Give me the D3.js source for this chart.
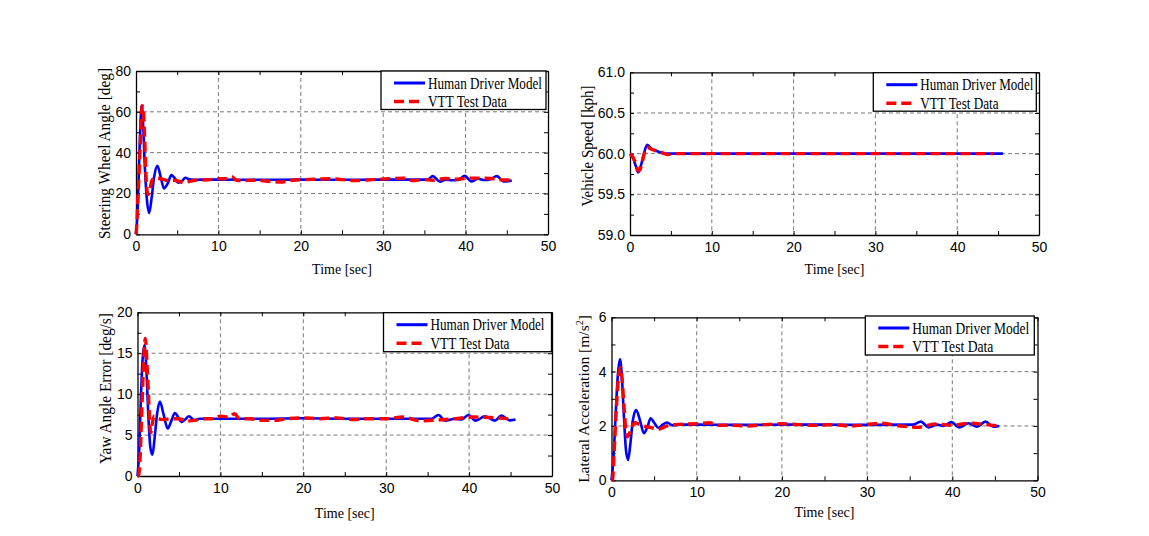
<!DOCTYPE html>
<html><head><meta charset="utf-8">
<script src="https://cdn.jsdelivr.net/npm/d3@7"></script>
<style>
html,body{margin:0;padding:0;background:#fff;}
svg{display:block;}
</style></head>
<body>
<script>
// ---------- data ----------
const timeTicks = [0, 10, 20, 30, 40, 50];
const timeMinorTicks = [5, 15, 25, 35, 45];
const steerTicks = [0, 20, 40, 60, 80];
const steerMinorTicks = [10, 30, 50, 70];
const speedTicks = [59.0, 59.5, 60.0, 60.5, 61.0];
const speedMinorTicks = [59.25, 59.75, 60.25, 60.75];
const yawTicks = [0, 5, 10, 15, 20];
const yawMinorTicks = [2.5, 7.5, 12.5, 17.5];
const latTicks = [0, 2, 4, 6];
const latMinorTicks = [1, 3, 5];

const legendLabels = ["Human Driver Model", "VTT Test Data"];
const xAxisLabel = "Time [sec]";
const yAxisLabels = ["Steering Wheel Angle [deg]", "Vehicle Speed [kph]", "Yaw Angle Error [deg/s]", "Lateral Acceleration [m/s"];

// Steering wheel angle
const steerModelT = [0,0.2,0.4,0.55,0.7,0.85,1.05,1.3,1.6,1.9,2.2,2.6,3.0,3.4,3.85,4.3,4.7,5.1,5.55,6.0,6.5,7.0,8,10,15,20,25,30,35,35.5,36.0,36.9,37.6,38.3,39.1,39.9,40.7,41.5,42.3,43.0,43.8,44.6,45.6];
const steerModelV = [0,12,38,55,63,55,35,18,10.5,18,28,33.5,28,22.5,25,29,27.5,25.3,26,27.7,26.9,26.7,26.8,26.8,26.7,26.8,26.7,26.8,26.8,27.0,28.5,25.8,26.8,26.5,26.6,28.6,25.9,27.2,26.6,27.0,28.5,25.9,26.3];
const steerTestT = [0,0.1,0.2,0.35,0.5,0.65,0.75,0.9,1.05,1.2,1.35,1.5,1.7,1.9,2.2,2.6,3.2,4,4.6,5.2,5.8,6.4,7.2,8,9,10,11,11.6,12.2,13,14.5,16,17.5,19,20.5,22,23.5,25,26.5,28,29.5,31,32.5,33.7,34.8,36,37.5,39,40.5,42,43.5,44.5,45.6];
const steerTestV = [0,5,15,28,42,58,63,60,47,30,21,19.5,22,26,27.5,27.5,27,26.3,26.5,26,25.3,25.8,26.5,26.6,26.8,27.2,27.3,28.3,26.5,26.3,26.5,26,25.6,26.5,26.8,27,27.2,26.8,26.3,26.6,27,27.3,27.5,26.3,26.8,26.5,27.3,27.0,27.5,27.5,27.2,26.6,26.6];

// Vehicle speed
const speedModelT = [0,0.4,0.7,1.0,1.3,1.7,2.1,2.6,3.1,3.6,4.2,5,10,20,30,40,45.6];
const speedModelV = [60.0,59.94,59.85,59.77,59.84,60.0,60.11,60.06,60.04,60.02,60.0,60.0,60.0,60.0,60.0,60.0,60.0];
const speedTestT = [0,0.4,0.7,1.0,1.2,1.5,1.8,2.1,2.5,3.0,3.5,4.0,4.6,5.2,6,10,20,30,40,44.4];
const speedTestV = [60.0,59.95,59.88,59.79,59.8,59.9,60.02,60.08,60.06,60.04,60.03,60.01,59.99,60.0,60.0,60.0,60.0,60.0,60.0,60.0];

// Yaw angle error
const yawModelT = [0,0.2,0.4,0.6,0.85,1.05,1.3,1.55,1.8,2.05,2.35,2.7,3.15,3.65,4.1,4.5,4.9,5.3,5.75,6.2,6.9,7.5,10,15,20,25,30,35.5,36.3,37.1,38.3,39.1,39.9,40.8,41.9,43.1,43.9,44.9,45.6];
const yawModelV = [0,3,9.3,14,16,13.5,7.5,3.5,2.6,4.5,7.5,9.1,7.5,5.8,6.8,7.7,7.2,6.6,6.9,7.3,6.8,7.0,7.0,7.0,7.05,7.0,7.0,7.0,7.45,6.76,7.0,6.9,7.45,6.76,7.3,6.76,7.4,6.8,6.9];
const yawTestT = [0,0.1,0.3,0.5,0.7,0.95,1.15,1.3,1.45,1.6,1.8,2.0,2.5,3.2,4,4.8,5.4,6,6.8,8,9,10,11,11.7,12.3,13.5,15,16.5,18,20,22,24,26,28,30,32,34,36.3,38.3,40.5,42.5,44.7];
const yawTestV = [0,0,2,7.4,13,16.8,13.5,10.5,7.0,5.3,6.5,7.3,7.0,6.9,7.0,7.0,6.9,6.7,6.8,7.0,7.0,7.3,7.2,7.6,7.0,7.0,6.8,6.8,7.0,7.1,7.0,7.1,6.9,7.0,7.0,7.2,6.75,6.85,7.0,7.2,7.15,7.0];

// Lateral acceleration
const latModelT = [0,0.25,0.5,0.75,1.0,1.2,1.45,1.7,1.95,2.2,2.5,2.9,3.35,3.8,4.2,4.6,5.05,5.5,6.0,6.5,7.2,8,10,15,20,25,30,35.4,36.3,37.2,38.2,39.0,39.9,40.8,41.9,42.9,43.9,44.8,45.5];
const latModelV = [0,0.9,2.5,3.9,4.45,3.9,2.4,1.1,0.75,1.3,2.2,2.59,2.2,1.73,1.95,2.28,2.1,1.93,2.05,2.13,2.02,2.05,2.05,2.04,2.05,2.05,2.04,2.05,2.16,1.95,2.05,2.0,2.14,1.95,2.1,1.97,2.16,1.97,2.0];
const latTestT = [0,0.1,0.35,0.6,0.85,1.05,1.25,1.45,1.7,1.9,2.3,2.75,3.3,4.0,4.5,5.5,6.5,7.5,8.5,10,11.5,12.5,14,16,18,20,22,24,26,28,30,31.5,33.9,35.9,38,40,42,44,45.4];
const latTestV = [0,0,1.3,2.8,3.9,4.15,3.7,2.8,1.8,1.6,1.9,2.12,2.05,1.98,1.95,1.88,2.0,2.05,2.07,2.08,2.12,2.02,2.03,2.0,2.05,2.08,2.05,2.02,2.05,2.0,2.05,2.1,2.0,1.95,2.07,2.03,2.1,2.05,2.0];

// ---------- layout ----------
const panels = [
  {left:136, right:548, top:71, bottom:234.3, ydom:[0,80], ticks:steerTicks, minor:steerMinorTicks, fmt:d3.format("d"),
   model:[steerModelT,steerModelV], test:[steerTestT,steerTestV], ylab:yAxisLabels[0], ylabX:109.5, ylabY:153.5, ylabLen:171,
   xlabY:274, leg:{right:546, top:71, w:165, h:38.5, tl:114}},
  {left:630, right:1039, top:72.3, bottom:235, ydom:[59,61], ticks:speedTicks, minor:speedMinorTicks, fmt:d3.format(".1f"),
   model:[speedModelT,speedModelV], test:[speedTestT,speedTestV], ylab:yAxisLabels[1], ylabX:592.5, ylabY:146, ylabLen:121,
   xlabY:274, leg:{right:1036.3, top:72.7, w:163, h:38.5, tl:113}},
  {left:137.5, right:552, top:312.3, bottom:476, ydom:[0,20], ticks:yawTicks, minor:yawMinorTicks, fmt:d3.format("d"),
   model:[yawModelT,yawModelV], test:[yawTestT,yawTestV], ylab:yAxisLabels[2], ylabX:111, ylabY:388.5, ylabLen:151,
   xlabY:518, leg:{right:551.5, top:312.7, w:168, h:39, tl:114}},
  {left:611.5, right:1037.5, top:317.3, bottom:480.3, ydom:[0,6], ticks:latTicks, minor:latMinorTicks, fmt:d3.format("d"),
   model:[latModelT,latModelV], test:[latTestT,latTestV], ylab:yAxisLabels[3], ylabX:589, ylabY:399, ylabLen:null, sup:"2",
   xlabY:517, leg:{right:1034.3, top:316, w:169, h:39, tl:117}}
];

const svg = d3.select("body").append("svg").attr("width",1149).attr("height",536);
const serif = "'Liberation Serif','Times New Roman',serif";
const sans = "'Liberation Sans',Arial,sans-serif";

panels.forEach(p => {
  const x = d3.scaleLinear().domain([0,50]).range([p.left,p.right]);
  const y = d3.scaleLinear().domain(p.ydom).range([p.bottom,p.top]);
  const g = svg.append("g");

  // grid
  const grid = g.append("g").attr("stroke","#7a7a7a").attr("stroke-width",1).attr("stroke-dasharray","4,3");
  grid.selectAll("line.vx").data(timeTicks.slice(1,-1)).join("line")
    .attr("x1",d=>x(d)).attr("x2",d=>x(d)).attr("y1",p.top).attr("y2",p.bottom);
  grid.selectAll("line.hy").data(p.ticks.slice(1,-1)).join("line")
    .attr("y1",d=>y(d)).attr("y2",d=>y(d)).attr("x1",p.left).attr("x2",p.right);

  const allX = timeTicks.concat(timeMinorTicks);
  const allY = p.ticks.concat(p.minor);
  const styleAxis = sel => {
    sel.select(".domain").attr("stroke","#000").attr("stroke-width",1.3);
    sel.selectAll(".tick line").attr("stroke","#000").attr("stroke-width",1);
    sel.selectAll("text").attr("fill","#000").attr("font-family",sans).attr("font-size",14);
  };
  const bottom = g.append("g").attr("transform",`translate(0,${p.bottom})`)
    .call(d3.axisBottom(x).tickValues(allX).tickSizeInner(-4).tickSizeOuter(0).tickPadding(7)
      .tickFormat(d => timeTicks.includes(d) ? d3.format("d")(d) : ""));
  styleAxis(bottom);
  const top = g.append("g").attr("transform",`translate(0,${p.top})`)
    .call(d3.axisTop(x).tickValues(allX).tickSizeInner(-4).tickSizeOuter(0).tickFormat(""));
  styleAxis(top);
  const left = g.append("g").attr("transform",`translate(${p.left},0)`)
    .call(d3.axisLeft(y).tickValues(allY).tickSizeInner(-4).tickSizeOuter(0).tickPadding(5)
      .tickFormat(d => p.ticks.includes(d) ? p.fmt(d) : ""));
  styleAxis(left);
  const right = g.append("g").attr("transform",`translate(${p.right},0)`)
    .call(d3.axisRight(y).tickValues(allY).tickSizeInner(-4).tickSizeOuter(0).tickFormat(""));
  styleAxis(right);

  // lines
  const line = d3.line().x(d=>x(d[0])).y(d=>y(d[1])).curve(d3.curveMonotoneX);
  g.append("path").datum(d3.zip(p.model[0],p.model[1])).attr("d",line)
    .attr("fill","none").attr("stroke","#0000ff").attr("stroke-width",2.6).attr("stroke-linejoin","round");
  g.append("path").datum(d3.zip(p.test[0],p.test[1])).attr("d",line)
    .attr("fill","none").attr("stroke","#ff0000").attr("stroke-width",3.4).attr("stroke-dasharray","10,5");

  // legend
  const L = p.leg;
  const lx = L.right - L.w;
  const lg = g.append("g");
  lg.append("rect").attr("x",lx).attr("y",L.top).attr("width",L.w).attr("height",L.h)
    .attr("fill","#fff").attr("stroke","#000").attr("stroke-width",1.3);
  const rows = [{c:"#0000ff",dash:null,w:3,len:31},{c:"#ff0000",dash:"10,5",w:3.4,len:26}];
  rows.forEach((r,i) => {
    const ry = L.top + 12 + i*18.5;
    const ln = lg.append("line").attr("x1",lx+13).attr("x2",lx+13+r.len).attr("y1",ry).attr("y2",ry)
      .attr("stroke",r.c).attr("stroke-width",r.w);
    if (r.dash) ln.attr("stroke-dasharray",r.dash);
    const t = lg.append("text").attr("x",lx+47).attr("y",ry+5.5).text(legendLabels[i])
      .attr("font-family",serif).attr("font-size",16).attr("fill","#000");
    t.attr("textLength", i===0 ? L.tl : L.tl*79/114).attr("lengthAdjust","spacingAndGlyphs");
  });

  // x label
  g.append("text").attr("x",(p.left+p.right)/2).attr("y",p.xlabY).attr("text-anchor","middle")
    .attr("font-family",serif).attr("font-size",14).attr("fill","#000").text(xAxisLabel);

  // y label
  const yl = g.append("text").attr("transform",`translate(${p.ylabX},${p.ylabY}) rotate(-90)`)
    .attr("text-anchor","middle").attr("font-family",serif).attr("font-size",16.5).attr("fill","#000");
  if (p.sup) {
    yl.attr("font-size",15.5);
    yl.append("tspan").text(p.ylab);
    yl.append("tspan").text(p.sup).attr("font-size",10).attr("dy",-6);
    yl.append("tspan").text("]").attr("dy",6);
  } else {
    yl.text(p.ylab);
    if (p.ylabLen) yl.attr("textLength",p.ylabLen).attr("lengthAdjust","spacingAndGlyphs");
  }
});
</script>
</body></html>
